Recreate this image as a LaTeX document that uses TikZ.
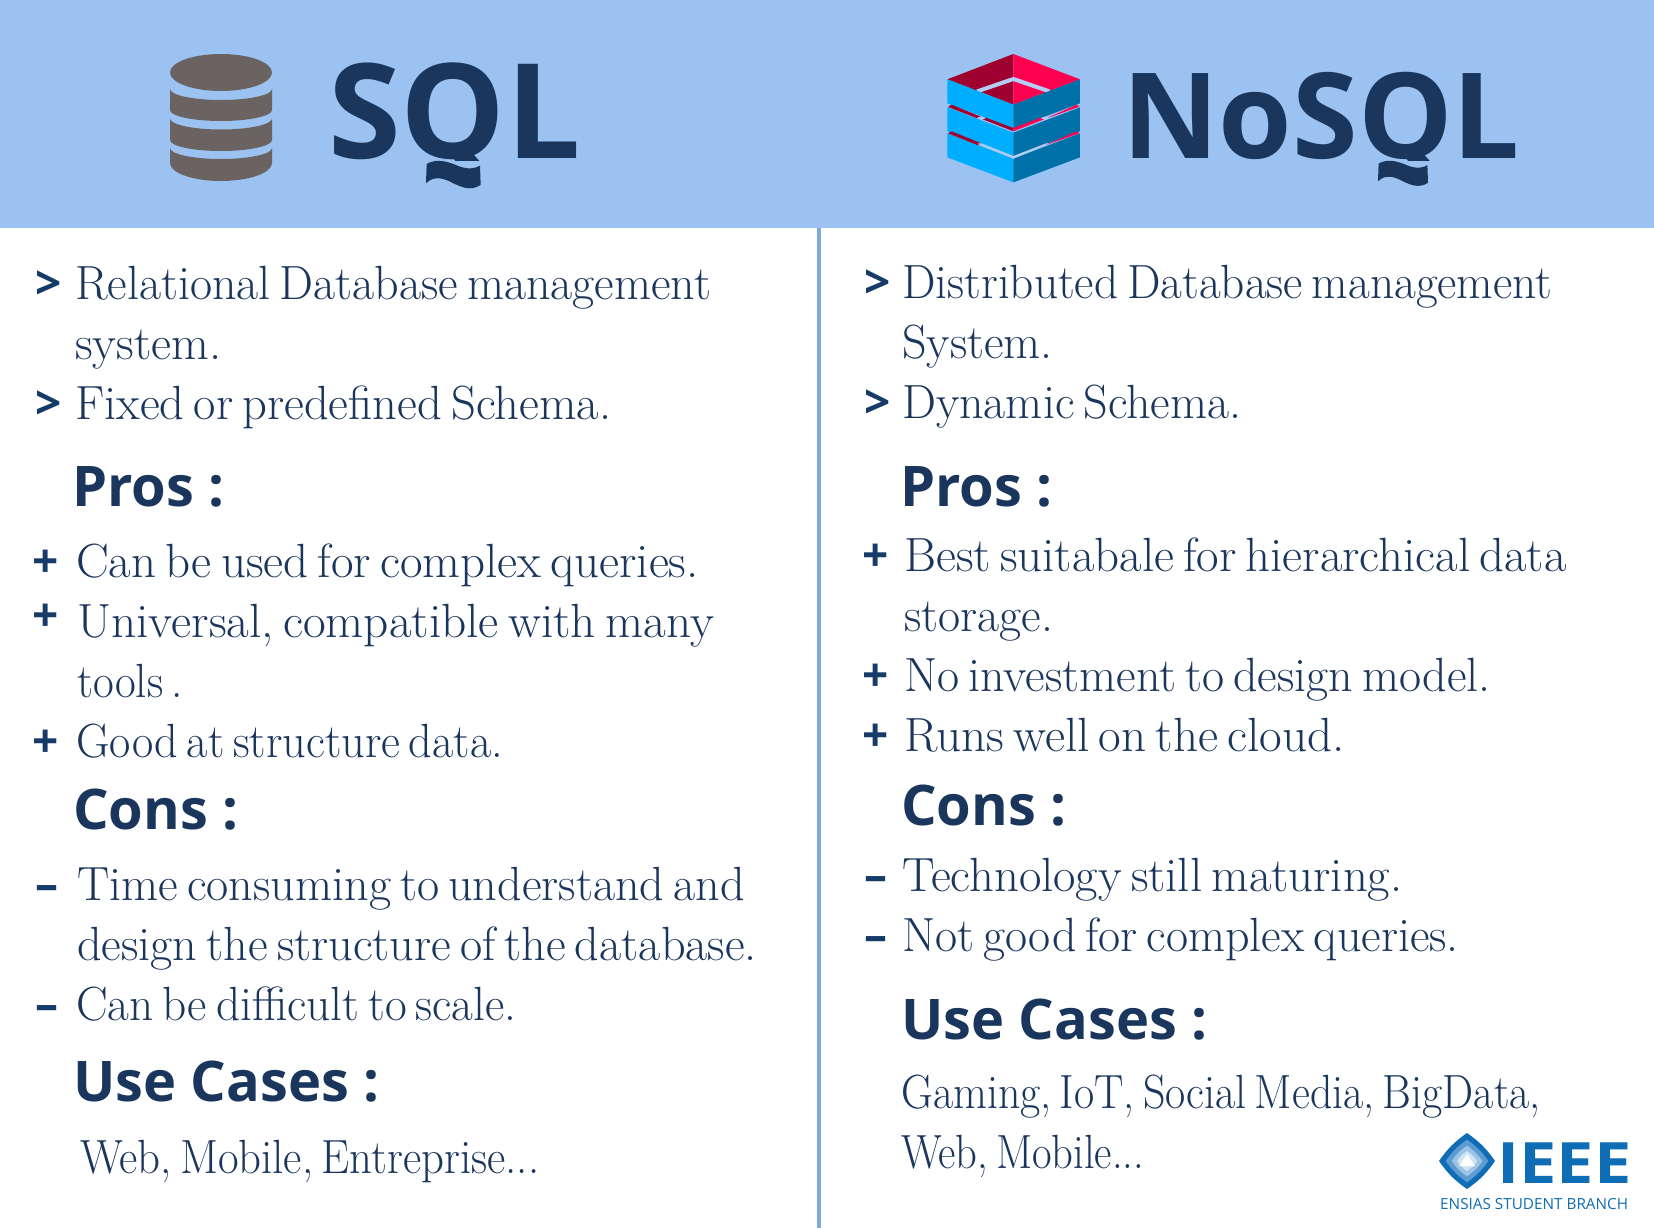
\documentclass[tikz,border=0pt]{standalone}
\usepackage{fontspec}
\newfontfamily\headfont{Open Sans}[BoldFont={Open Sans Bold}]
\newcommand{\bodyfont}{\fontsize{48}{48}\selectfont\spaceskip 9pt plus 0pt\relax}
\usepackage{tikz}
\usetikzlibrary{positioning}
\definecolor{headerblue}{HTML}{9BC2F0}
\definecolor{rulesblue}{HTML}{7FA9DB}
\definecolor{navy}{HTML}{1B365D}
\definecolor{bulletblue}{HTML}{163B69}
\definecolor{dbgrey}{HTML}{6B6361}
\definecolor{cubedark}{HTML}{A00030}
\definecolor{cubepink}{HTML}{FF0050}
\definecolor{cubelight}{HTML}{00AEFF}
\definecolor{cubedeep}{HTML}{0070A8}
\definecolor{cubegap}{HTML}{B4CDF2}
\definecolor{ieeeblue}{HTML}{0F6DB5}
\definecolor{ieeemid}{HTML}{5C9BD0}
\definecolor{ieeesoft}{HTML}{9CC2E4}
\definecolor{ieeepale}{HTML}{D0E4F4}

\begin{document}
\begin{tikzpicture}[x=1pt,y=-1pt,
    bodyline/.style={anchor=base west, inner sep=0pt, text=navy, font=\bodyfont},
    squeeze/.style={xscale=#1, transform shape},
    bulletmark/.style={anchor=base west, inner sep=0pt, text=bulletblue, font=\headfont\bfseries\fontsize{46}{46}\selectfont},
    sectionhead/.style={anchor=base west, inner sep=0pt, text=navy, font=\headfont\bfseries\fontsize{56}{56}\selectfont},
    titletext/.style={anchor=base west, inner sep=0pt, text=navy, font=\headfont\bfseries}]
    \useasboundingbox (0,0) rectangle (1654,1228);
    % Background
    \fill[white] (0,0) rectangle (1654,1228);
    \fill[headerblue] (0,0) rectangle (1654,228);
    \fill[rulesblue] (817,228) rectangle (821,1228);
    % Database icon
    \fill[dbgrey] (221,72.5) ellipse [x radius=51, y radius=18.5];
    \foreach \top/\bot/\depth in {89/110/11, 118.5/140/11, 148/163/18}
      \fill[dbgrey] (170,\top) arc[start angle=180, end angle=0, x radius=51, y radius=11]
        -- (272,\bot) arc[start angle=0, end angle=180, x radius=51, y radius=\depth] -- cycle;
    % Cube icon
    \begin{scope}[shift={(920,30)},x=0.3333pt,y=-0.3333pt]
      \fill[cubedark] (280,72) -- (82,148) -- (280,224) -- cycle;
      \fill[cubepink] (280,72) -- (480,148) -- (280,224) -- cycle;
      \draw[cubegap, line width=4pt, line join=miter] (172,184) -- (280,147) -- (388,184);
      \foreach \dy in {0,84,162} {
        \fill[cubelight] (82,148+\dy) -- (280,224+\dy) -- (280,295+\dy) -- (82,220+\dy) -- cycle;
        \fill[cubedeep] (480,148+\dy) -- (280,224+\dy) -- (280,295+\dy) -- (480,220+\dy) -- cycle;
      }
      \fill[cubedark] (84,231) -- (95,224) -- (182,260) -- (172,265) -- cycle;
      \fill[cubedark] (188,268) -- (198,263) -- (280,294) -- (280,304) -- cycle;
      \fill[cubepink] (280,304) -- (280,294) -- (362,263) -- (372,268) -- cycle;
      \fill[cubepink] (380,265) -- (390,260) -- (470,224) -- (478,230) -- cycle;
      \fill[cubegap] (172,263) -- (182,260) -- (196,265) -- (188,268) -- cycle;
      \fill[cubegap] (362,265) -- (378,260) -- (388,264) -- (372,268) -- cycle;
      \fill[cubedark] (84,310) -- (95,304) -- (184,340) -- (172,345) -- cycle;
      \fill[cubepink] (378,345) -- (388,340) -- (470,304) -- (478,310) -- cycle;
      \fill[cubegap] (172,340) -- (184,340) -- (280,378) -- (378,340) -- (388,340) -- (280,386) -- cycle;
    \end{scope}
    % Titles
    \node[titletext, font=\headfont\bfseries\fontsize{132}{132}\selectfont] (sqltitle) at (328,158.5) {SQL};
    \node[titletext, font=\headfont\bfseries\fontsize{119}{119}\selectfont] (nosqltitle) at (1122,158) {NoSQL};
    % Tails of the two Q
    \fill[headerblue] (405,161) rectangle (500,200);
    \fill[headerblue] (1360,161) rectangle (1450,200);
    \foreach \ox/\oy/\s in {426/160/.3333, 1378/160/.3048}
      \fill[navy, shift={(\ox,\oy)}, x=\s pt, y=-\s pt] (0,70) -- (2,12)
        .. controls (27,-3) and (55,2) .. (82,12) .. controls (110,24) and (135,32) .. (162,17)
        -- (164,75) .. controls (132,95) and (105,80) .. (82,70) .. controls (55,55) and (25,45) .. (0,70) -- cycle;
    % Left column
    \node[bulletmark] (sqlmarka) at (35,299) {>};
    \node[bodyline] (sqla) at (75,299) {Relational Database management};
    \node[bodyline, squeeze=1.02] (sqlb) at (75,359) {system.};
    \node[bulletmark] (sqlmarkc) at (35,419) {>};
    \node[bodyline, squeeze=1.012] (sqlc) at (75,419) {Fixed or predefined Schema.};
    \node[sectionhead] (sqlpros) at (72,506) {Pros :};
    \node[bulletmark] (sqlmarkd) at (32,577) {+};
    \node[bodyline, squeeze=1.021] (sqld) at (76,577) {Can be used for complex queries.};
    \node[bulletmark] (sqlmarke) at (32,631) {+};
    \node[bodyline, squeeze=1.027] (sqle) at (77,637) {Universal, compatible with many};
    \node[bodyline, squeeze=.94] (sqlf) at (77,697) {tools .};
    \node[bulletmark] (sqlmarkg) at (32,757) {+};
    \node[bodyline, squeeze=.964] (sqlg) at (76,757) {Good at structure data.};
    \node[sectionhead] (sqlcons) at (73,829) {Cons :};
    \node[bulletmark] (sqlmarkh) at (35,900) {–};
    \node[bodyline, squeeze=1.003] (sqlh) at (77,900) {Time consuming to understand and};
    \node[bodyline, squeeze=1.005] (sqli) at (77,960) {design the structure of the database.};
    \node[bulletmark] (sqlmarkj) at (35,1020) {–};
    \node[bodyline, squeeze=.986] (sqlj) at (76,1020) {Can be difficult to scale.};
    \node[sectionhead] (sqluse) at (73,1101) {Use Cases :};
    \node[bodyline, squeeze=.933] (sqlk) at (80,1173) {Web, Mobile, Entreprise...};
    % Right column
    \node[bulletmark] (nomarka) at (864,298) {>};
    \node[bodyline, squeeze=.986] (noa) at (902,298) {Distributed Database management};
    \node[bodyline] (nob) at (902,358) {System.};
    \node[bulletmark] (nomarkc) at (864,418) {>};
    \node[bodyline] (noc) at (902,418) {Dynamic Schema.};
    \node[sectionhead] (nopros) at (900,506) {Pros :};
    \node[bulletmark] (nomarkd) at (862,571) {+};
    \node[bodyline, squeeze=1.019] (nod) at (904,571) {Best suitabale for hierarchical data};
    \node[bodyline] (noe) at (904,631) {storage.};
    \node[bulletmark] (nomarkf) at (862,691) {+};
    \node[bodyline] (nof) at (904,691) {No investment to design model.};
    \node[bulletmark] (nomarkg) at (862,751) {+};
    \node[bodyline, squeeze=1.025] (nog) at (904,751) {Runs well on the cloud.};
    \node[sectionhead] (nocons) at (901,825) {Cons :};
    \node[bulletmark] (nomarkh) at (864,891) {–};
    \node[bodyline, squeeze=1.015] (noh) at (902,891) {Technology still maturing.};
    \node[bulletmark] (nomarki) at (864,951) {–};
    \node[bodyline] (noi) at (902,951) {Not good for complex queries.};
    \node[sectionhead] (nouse) at (901,1039) {Use Cases :};
    \node[bodyline, squeeze=.915] (noj) at (901,1108) {Gaming, IoT, Social Media, BigData,};
    \node[bodyline, squeeze=.887] (nok) at (901,1168) {Web, Mobile...};
    % Logo
    \foreach \s/\c in {1/ieeeblue, .76/ieeemid, .55/ieeesoft, .36/ieeepale}
      \fill[\c, shift={(1467,1161)}, scale=\s] (0,-28) to[bend left=10] (28,0) to[bend left=10] (0,28)
        to[bend left=10] (-28,0) to[bend left=10] cycle;
    \fill[white] (1467,1154) -- (1475,1166) -- (1459,1166) -- cycle;
    \node[anchor=base west, inner sep=0pt, text=ieeeblue, squeeze=1.17, font=\headfont\bfseries\fontsize{57}{57}\selectfont] (ieeename) at (1497,1183) {IEEE};
    \node[anchor=base west, inner sep=0pt, text=ieeeblue, font=\headfont\fontsize{15.3}{15.3}\selectfont] (ieeebranch) at (1440,1209) {ENSIAS STUDENT BRANCH};
\end{tikzpicture}
\end{document}
